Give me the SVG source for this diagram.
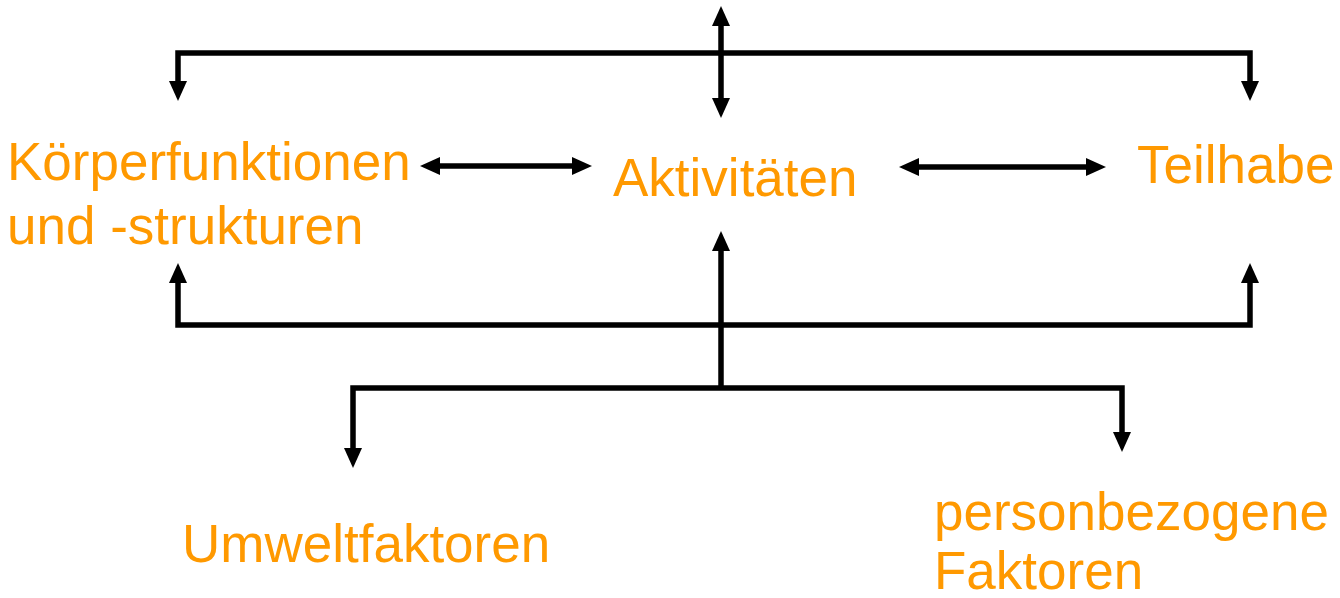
<svg xmlns="http://www.w3.org/2000/svg" width="1340" height="598" viewBox="0 0 1340 598">
  <style>
    .lbl { font-family: "Liberation Sans", Arial, sans-serif; font-size: 53px; fill: #FF9900; }
    .con { fill: none; stroke: #000; stroke-width: 5.5; stroke-linejoin: miter; }
  </style>
  <defs>
    <marker id="ah" viewBox="0 0 20 18" refX="2" refY="9" markerWidth="20" markerHeight="18" markerUnits="userSpaceOnUse" orient="auto-start-reverse">
      <path d="M0,0 L20,9 L0,18 z" fill="#000"/>
    </marker>
  </defs>
  <rect width="1340" height="598" fill="#fff"/>
  <g id="connectors">
    <path class="con" d="M178,83 V53 H1250 V83" marker-start="url(#ah)" marker-end="url(#ah)"/>
    <path class="con" d="M721,24 V100" marker-start="url(#ah)" marker-end="url(#ah)"/>
    <path class="con" d="M438,166 H574" marker-start="url(#ah)" marker-end="url(#ah)"/>
    <path class="con" d="M917,167 H1088" marker-start="url(#ah)" marker-end="url(#ah)"/>
    <path class="con" d="M178,281 V325 H1250 V281" marker-start="url(#ah)" marker-end="url(#ah)"/>
    <path class="con" d="M721,388 V249" marker-end="url(#ah)"/>
    <path class="con" d="M353,450 V388 H1122 V434" marker-start="url(#ah)" marker-end="url(#ah)"/>
  </g>
  <g id="koerperfunktionen">
    <text class="lbl" x="7" y="180">Körperfunktionen</text>
    <text class="lbl" x="7" y="244">und -strukturen</text>
  </g>
  <g id="aktivitaeten">
    <text class="lbl" x="613" y="196">Aktivitäten</text>
  </g>
  <g id="teilhabe">
    <text class="lbl" x="1137" y="183">Teilhabe</text>
  </g>
  <g id="umweltfaktoren">
    <text class="lbl" x="182" y="562">Umweltfaktoren</text>
  </g>
  <g id="personbezogene">
    <text class="lbl" x="934" y="530">personbezogene</text>
    <text class="lbl" x="934" y="589">Faktoren</text>
  </g>
</svg>
